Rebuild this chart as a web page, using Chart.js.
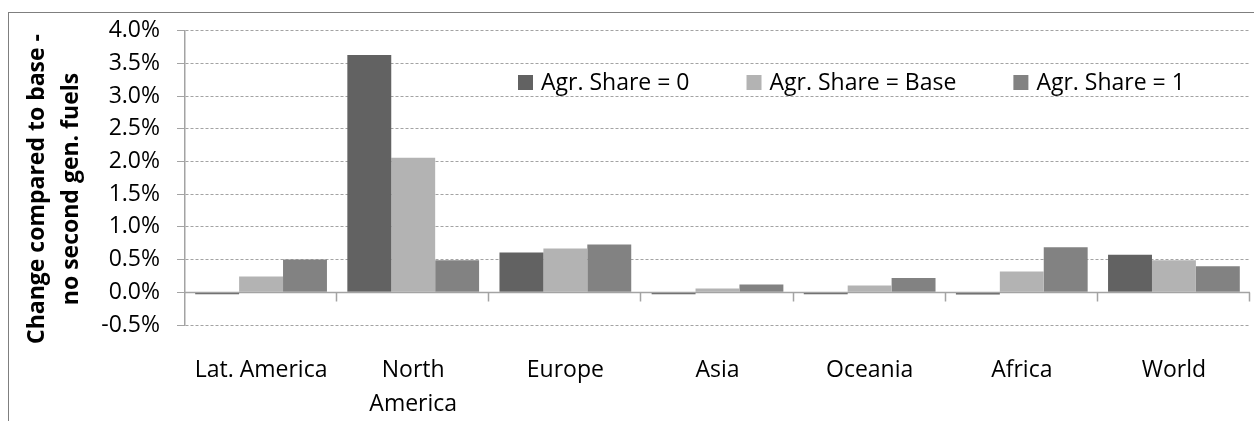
<!DOCTYPE html>
<html lang="en">
  <head>
    <meta charset="UTF-8" />
    <title>Change compared to base - no second gen. fuels</title>
    <script src="https://cdn.jsdelivr.net/npm/chart.js@4.4.0/dist/chart.umd.min.js"></script>
    <style>
      body { margin: 0; background: #fff; }
      .wrap { position: relative; width: 1254px; height: 421px; overflow: hidden; }
      .frame {
        position: absolute; left: 8px; top: 12px; width: 1400px; height: 600px;
        border-left: 1px solid #7f7f7f; border-top: 1px solid #7f7f7f;
        pointer-events: none;
      }
    </style>
  </head>
  <body>
    <div class="wrap">
      <canvas id="barChart" width="1254" height="421"></canvas>
      <div class="frame"></div>
    </div>

    <script>
      // Data (values in %)
      const regions = ["Lat. America", ["North", "America"], "Europe", "Asia", "Oceania", "Africa", "World"];
      const seriesNames = ["Agr. Share = 0", "Agr. Share = Base", "Agr. Share = 1"];
      const share0 = [-0.003, 3.63, 0.61, -0.004, -0.004, -0.035, 0.575];
      const shareBase = [0.24, 2.06, 0.67, 0.06, 0.105, 0.32, 0.49];
      const share1 = [0.5, 0.49, 0.73, 0.12, 0.22, 0.69, 0.4];
      const yTitle = ["Change compared to base -", "no second gen. fuels"];

      const colors = ["#626262", "#b3b3b3", "#828282"];
      const FONT = '"Open Sans", "Noto Sans", sans-serif';

      // zero line, legend and rotated axis title
      const extras = {
        id: "extras",
        beforeDraw(chart) {
          const ctx = chart.ctx;
          ctx.save();
          ctx.fillStyle = "#fff";
          ctx.fillRect(0, 0, chart.width, chart.height);
          ctx.restore();
        },
        afterDatasetsDraw(chart) {
          const ctx = chart.ctx;
          const area = chart.chartArea;
          const y0 = Math.round(chart.scales.y.getPixelForValue(0)) + 0.5;
          const step = (area.right - area.left) / regions.length;
          ctx.save();
          ctx.strokeStyle = "#a3a3a3";
          ctx.lineWidth = 1.5;
          ctx.beginPath();
          ctx.moveTo(area.left, y0);
          ctx.lineTo(area.right, y0);
          for (let i = 1; i <= regions.length; i++) {
            const x = Math.round(area.left + i * step) - 0.5;
            ctx.moveTo(x, y0);
            ctx.lineTo(x, y0 + 9);
          }
          ctx.stroke();
          ctx.restore();
        },
        afterDraw(chart) {
          const ctx = chart.ctx;
          ctx.save();
          // legend inside the plot
          ctx.font = "23px " + FONT;
          ctx.textBaseline = "middle";
          let x = 518;
          seriesNames.forEach((name, i) => {
            ctx.fillStyle = colors[i];
            ctx.fillRect(x, 75, 15, 15);
            ctx.fillStyle = "#000";
            ctx.fillText(name, x + 23, 83);
            x += 23 + ctx.measureText(name).width + 57;
          });

          // y axis title, two lines, rotated
          ctx.font = "bold 23px " + FONT;
          ctx.textAlign = "center";
          ctx.fillStyle = "#000";
          ctx.translate(0, 189);
          ctx.rotate(-Math.PI / 2);
          ctx.fillText(yTitle[0], 0, 37);
          ctx.fillText(yTitle[1], 0, 71);
          ctx.restore();
        },
      };

      const ctx = document.getElementById("barChart").getContext("2d");
      const barChart = new Chart(ctx, {
        type: "bar",
        data: {
          labels: regions,
          datasets: [share0, shareBase, share1].map((data, i) => ({
            label: seriesNames[i],
            data: data,
            backgroundColor: colors[i],
            borderWidth: 0,
            minBarLength: i === 0 ? 2 : 0,
            barPercentage: 1,
            categoryPercentage: 0.866,
          })),
        },
        options: {
          responsive: false,
          animation: false,
          layout: { padding: { top: 29, right: 4, left: 0, bottom: 0 } },
          plugins: {
            legend: { display: false },
            tooltip: { enabled: false },
          },
          scales: {
            x: {
              grid: { display: false, drawTicks: false },
              border: { display: false },
              ticks: {
                color: "#000",
                padding: 28,
                maxRotation: 0,
                autoSkip: false,
                font: { family: FONT, size: 23, lineHeight: "34px" },
              },
              afterFit(scale) {
                scale.height = 96;
              },
            },
            y: {
              min: -0.5,
              max: 4.0,
              grid: {
                color: "#a3a3a3",
                lineWidth: 1,
                tickLength: 8,
              },
              border: { display: true, color: "#a3a3a3", width: 1.5, dash: [3, 2] },
              ticks: {
                stepSize: 0.5,
                color: "#000",
                padding: 17,
                font: { family: FONT, size: 23 },
                callback: (v) => v.toFixed(1) + "%",
              },
              afterFit(scale) {
                scale.width = 185;
              },
            },
          },
        },
        plugins: [extras],
      });
    </script>
  </body>
</html>
